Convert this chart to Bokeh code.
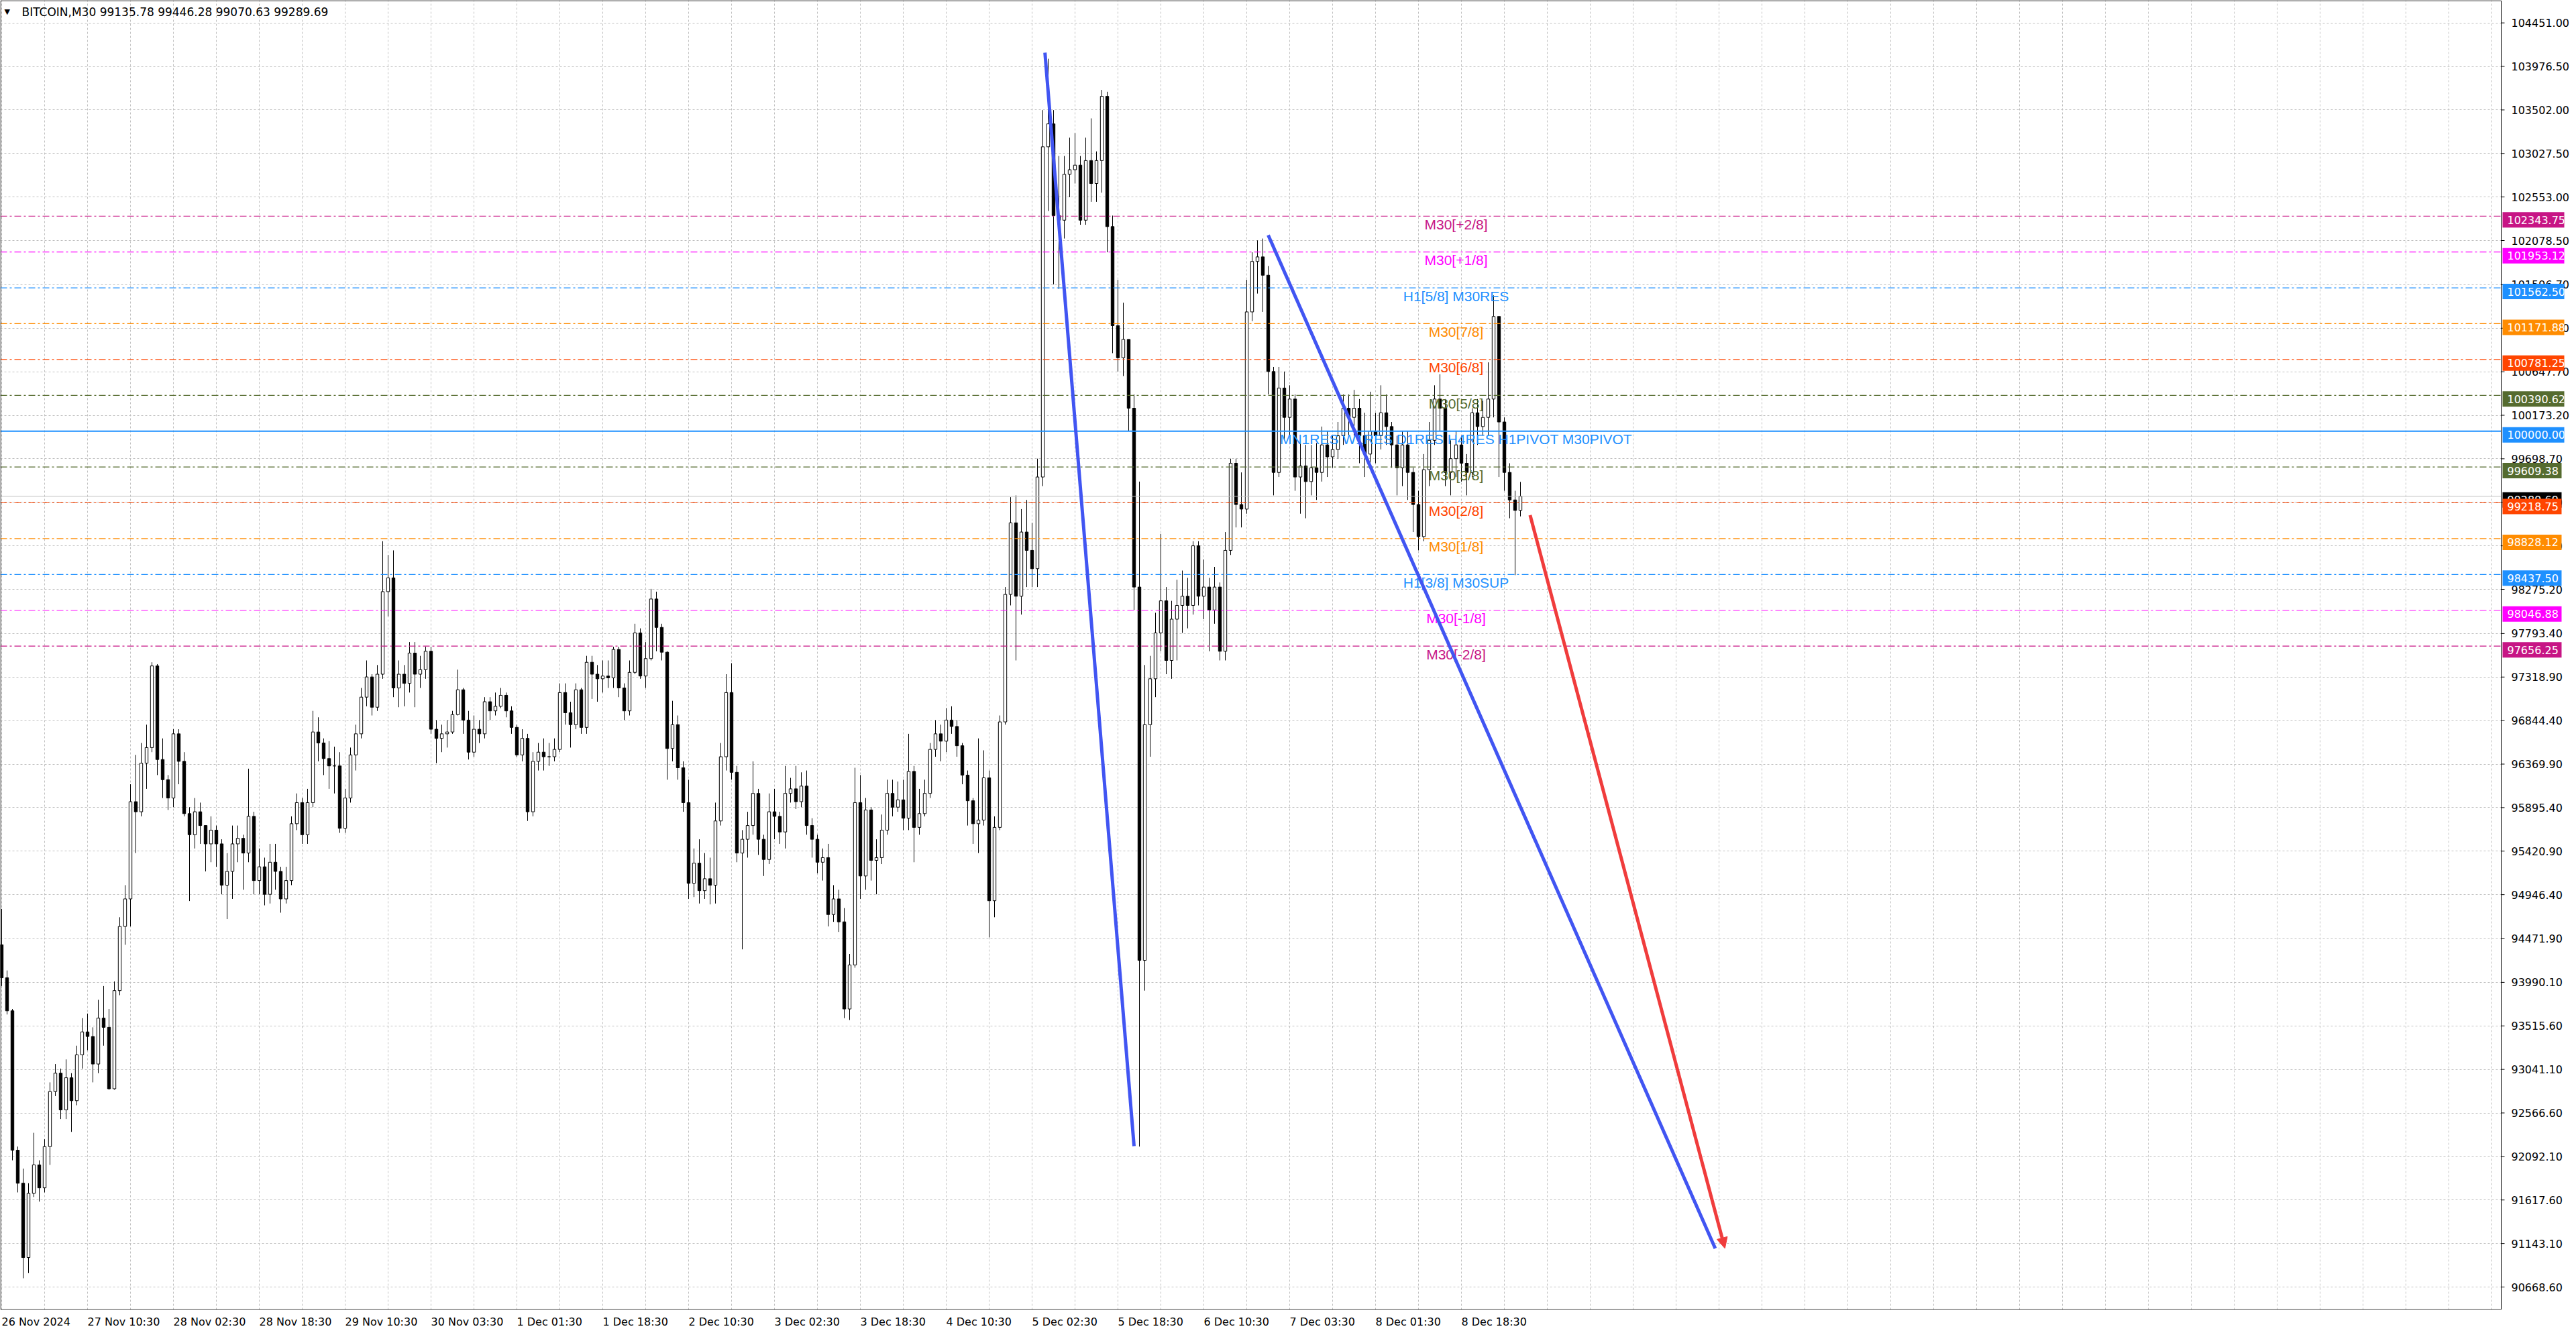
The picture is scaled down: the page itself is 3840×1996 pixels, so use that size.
from bokeh.plotting import figure
from bokeh.models import (Range1d, FixedTicker, Label, BoxAnnotation, Arrow, NormalHead,
                          ColumnDataSource, NumeralTickFormatter)
from bokeh.embed import file_html
from bokeh.resources import INLINE
from bokeh.core.properties import value

# ---------------- data (hourly candles) ----------------
first_open = 94400
highs = [94790, 94120, 93700, 92200, 91960, 91800, 92350, 92050, 92280, 92900,
         93100, 93050, 93150, 93000, 93300, 93600, 93650, 93500, 93800, 93950,
         93700, 94000, 94700, 95050, 96150, 96470, 96600, 96800, 97480, 97460,
         96650, 96250, 96750, 96750, 96500, 95900, 96000, 95950, 95700, 95800,
         95700, 95550, 95400, 95700, 95700, 95600, 96320, 95850, 95450, 95350,
         95500, 95500, 95250, 95250, 95800, 96050, 96000, 96100, 96950, 96880,
         96650, 96620, 96560, 96500, 96100, 96550, 96800, 97200, 97500, 97350,
         97450, 98800, 98650, 98700, 97500, 97450, 97700, 97700, 97550, 97650,
         97650, 96850, 96800, 96850, 96950, 97400, 97200, 96950, 96900, 96850,
         97100, 97100, 97150, 97200, 97150, 97000, 96800, 96750, 96700, 96500,
         96600, 96650, 96600, 96650, 97250, 97250, 97050, 97250, 97200, 97550,
         97550, 97450, 97500, 97500, 97650, 97650, 97250, 97500, 97900, 97850,
         97700, 98280, 98250, 97900, 97600, 97060, 96900, 96400, 96200, 95450,
         95550, 95400, 95350, 95950, 96600, 97350, 97470, 96350, 95650, 95850,
         96400, 96100, 95600, 96050, 96100, 95850, 96350, 96220, 96350, 96280,
         96300, 95780, 95600, 95450, 95500, 95050, 95000, 94800, 94300, 96330,
         96250, 96000, 95900, 95550, 95820, 96200, 96200, 96180, 96200, 96700,
         96350, 96100, 96200, 96600, 96850, 96800, 96980, 97000, 96850, 96600,
         96300, 96000, 96650, 96520, 96300, 95800, 96900, 98300, 99280, 99300,
         99150, 99250, 99000, 99700, 103500, 104060, 103500, 103000, 103000, 103200,
         103250, 103000, 103200, 103410, 103050, 103720, 103700, 102350, 101650, 101400,
         101000, 100400, 99450, 97450, 97550, 98020, 98880, 98300, 98150, 98380,
         98480, 98400, 98800, 98800, 98600, 98400, 98520, 98350, 98900, 99700,
         99700, 99550, 101650, 101950, 102080, 102100, 101800, 100700, 100700, 100650,
         100500, 100400, 99870, 99850, 99850, 99870, 100050, 100000, 99950, 100100,
         100400, 100400, 100450, 100350, 100200, 100430, 100200, 100500, 100400, 100100,
         99950, 100000, 100000, 99600, 99350, 99750, 100100, 100500, 100620, 100350,
         99900, 100000, 99950, 99750, 100250, 100350, 100330, 100750, 101480, 101250,
         100150, 99650, 99350, 99446.28]
lows = [93950, 93640, 92050, 91700, 90764, 90820, 91650, 91600, 91700, 92000,
        92750, 92500, 92500, 92360, 92650, 93050, 93250, 92900, 93000, 93300,
        92820, 92820, 93850, 94400, 94600, 95400, 95800, 96100, 96500, 96250,
        96000, 95870, 95900, 96150, 95800, 94877, 95450, 95500, 95200, 95300,
        95250, 94950, 94680, 94900, 95300, 95000, 95300, 94950, 94950, 94830,
        94850, 95000, 94750, 94850, 95050, 95650, 95500, 95500, 95900, 96400,
        96250, 96100, 96050, 95620, 95620, 95950, 96300, 96650, 97000, 96900,
        96950, 97300, 97980, 97100, 96990, 97000, 97150, 96990, 97200, 97300,
        96700, 96380, 96500, 96550, 96700, 96900, 96700, 96420, 96450, 96600,
        96650, 96850, 96900, 96980, 96880, 96700, 96450, 96400, 95750, 95800,
        96300, 96300, 96350, 96400, 96500, 96800, 96550, 96750, 96700, 96700,
        97080, 97050, 97150, 97200, 97200, 97100, 96850, 96900, 97350, 97300,
        97200, 97500, 97600, 97500, 96200, 96400, 96200, 95850, 94900, 94920,
        94850, 94900, 94840, 94850, 95700, 96300, 96200, 95300, 94350, 95350,
        95600, 95380, 95150, 95280, 95550, 95500, 95450, 95950, 95880, 95900,
        95600, 95350, 95180, 95100, 94600, 94650, 94540, 93600, 93580, 94150,
        94900, 95000, 95100, 94950, 95280, 95600, 95800, 95850, 95650, 95650,
        95300, 95600, 95800, 96000, 96450, 96400, 96500, 96700, 96450, 96150,
        95700, 95500, 95400, 95700, 94480, 94700, 95650, 96800, 98100, 97500,
        98000, 98300, 98300, 98300, 99400, 102400, 101600, 101550, 102100, 102550,
        102700, 102250, 102250, 102500, 102500, 102600, 101950, 100850, 100650, 100600,
        100000, 98050, 92200, 93900, 96450, 97100, 97600, 97350, 97300, 97500,
        97800, 97850, 98000, 98100, 97950, 97600, 97900, 97500, 97500, 98650,
        98950, 98950, 99100, 101200, 101500, 101300, 100400, 99300, 99500, 99900,
        99950, 99350, 99100, 99050, 99300, 99250, 99450, 99500, 99600, 99700,
        99850, 99950, 99950, 99650, 99500, 99600, 99650, 99800, 99850, 99600,
        99300, 99400, 99250, 98900, 98700, 98800, 99400, 99850, 100000, 99400,
        99300, 99500, 99450, 99300, 99500, 99850, 99950, 99950, 100150, 99500,
        99350, 99050, 98430, 99070.63]
closes = [94040, 93680, 92160, 91800, 90990, 91690, 92000, 91750, 92200, 92800,
          93000, 92600, 92950, 92700, 93200, 93450, 93400, 93100, 93600, 93500,
          92830, 93900, 94600, 94900, 95960, 95850, 96380, 96550, 97440, 96420,
          96200, 96000, 96700, 96400, 95830, 95600, 95850, 95700, 95500, 95650,
          95500, 95050, 95200, 95500, 95560, 95400, 95800, 95100, 95250, 94950,
          95300, 95200, 94900, 95100, 95720, 95950, 95600, 95950, 96720, 96600,
          96430, 96350, 96350, 95670, 96000, 96470, 96700, 97100, 97320, 96990,
          97350, 98250, 98400, 97200, 97350, 97250, 97580, 97350, 97400, 97600,
          96750, 96650, 96700, 96720, 96910, 97180, 96850, 96500, 96750, 96700,
          97050, 96950, 97000, 97120, 96950, 96770, 96470, 96650, 95850, 96400,
          96500, 96450, 96450, 96530, 97150, 96930, 96800, 97180, 96770, 97480,
          97350, 97300, 97330, 97310, 97620, 97200, 96950, 97370, 97800, 97330,
          97520, 98170, 97860, 97590, 96540, 96800, 96330, 95950, 95070, 95290,
          94990, 95120, 95050, 95750, 96450, 97150, 96280, 95400, 95550, 95700,
          96050, 95550, 95330, 95850, 95800, 95630, 96050, 96100, 95960, 96130,
          95700, 95550, 95300, 95350, 94730, 94900, 94650, 93700, 94180, 95950,
          95150, 95870, 95320, 95350, 95650, 96050, 95900, 95980, 95780, 96290,
          95680, 95830, 96050, 96530, 96700, 96620, 96850, 96780, 96570, 96250,
          95970, 95720, 95760, 96220, 94880, 95680, 96830, 98220, 99000, 98200,
          98900, 98700, 98500, 99500, 103100, 103350, 102350, 102300, 102800, 102850,
          102900, 102300, 102950, 102700, 102950, 103650, 102230, 101150, 100800, 101000,
          100250, 98300, 94230, 96800, 97300, 97800, 98150, 97500, 97950, 98100,
          98200, 98100, 98750, 98200, 98300, 98050, 98300, 97600, 98700, 99650,
          99200, 99150, 101300, 101850, 101900, 101700, 100650, 99550, 100470, 100150,
          100350, 99500, 99620, 99450, 99600, 99550, 99850, 99720, 99800, 99950,
          100250, 100150, 100250, 99950, 99750, 100000, 99950, 100200, 100050, 99850,
          99600, 99850, 99550, 99200, 98850, 99580, 99900, 100350, 100250, 99550,
          99700, 99850, 99650, 99550, 100200, 100050, 100150, 100350, 101250, 100100,
          99550, 99250, 99135.78, 99289.69]

# price axis ticks and time axis labels
price_ticks = [104451.00, 103976.50, 103502.00, 103027.50, 102553.00, 102078.50,
               101596.70, 101122.20, 100647.70, 100173.20, 99698.70, 99224.20,
               98749.70, 98275.20, 97793.40, 97318.90, 96844.40, 96369.90,
               95895.40, 95420.90, 94946.40, 94471.90, 93990.10, 93515.60,
               93041.10, 92566.60, 92092.10, 91617.60, 91143.10, 90668.60]
time_labels = ["26 Nov 2024", "27 Nov 10:30", "28 Nov 02:30", "28 Nov 18:30",
               "29 Nov 10:30", "30 Nov 03:30", "1 Dec 01:30", "1 Dec 18:30",
               "2 Dec 10:30", "3 Dec 02:30", "3 Dec 18:30", "4 Dec 10:30",
               "5 Dec 02:30", "5 Dec 18:30", "6 Dec 10:30", "7 Dec 03:30",
               "8 Dec 01:30", "8 Dec 18:30"]
bars_per_label = 16

# Murrey math levels
level_prices = [102343.75, 101953.12, 101562.50, 101171.88, 100781.25, 100390.62,
                100000.00, 99609.38, 99218.75, 98828.12, 98437.50, 98046.88, 97656.25]
level_names = ["M30[+2/8]", "M30[+1/8]", "H1[5/8] M30RES", "M30[7/8]", "M30[6/8]",
               "M30[5/8]", "MN1RES W1RES D1RES H4RES H1PIVOT M30PIVOT", "M30[3/8]",
               "M30[2/8]", "M30[1/8]", "H1[3/8] M30SUP", "M30[-1/8]", "M30[-2/8]"]
level_colors = ["#C71585", "#FF00FF", "#1E90FF", "#FF8C00", "#FF4500", "#556B2F",
                "#1E90FF", "#556B2F", "#FF4500", "#FF8C00", "#1E90FF", "#FF00FF", "#C71585"]
pivot_price = 100000.00
label_pos = 271

bid_price = 99289.69
title_text = "BITCOIN,M30  99135.78 99446.28 99070.63 99289.69"

# drawn trend lines (bar index, price)
trend_x0 = [194.4, 236.0]
trend_y0 = [104127, 102137]
trend_x1 = [211.0, 319.3]
trend_y1 = [92205, 91090]
arrow_x0, arrow_y0, arrow_x1, arrow_y1 = 284.8, 99084, 321.1, 91090

# ---------------- layout constants ----------------
PX = 8.0                 # pixels per bar
CHART_W = 3728           # chart area width (px)
FW, FH = 3822, 1952      # frame incl. price-scale strip
x0 = -0.25
x_end = x0 + CHART_W / PX
x_max = x0 + FW / PX
y_min, y_max = 90420, 104697
ppx = (y_max - y_min) / FH   # price per pixel

p = figure(frame_width=FW, frame_height=FH,
           x_range=Range1d(x0, x_max), y_range=Range1d(y_min, y_max),
           output_backend="svg", toolbar_location=None,
           y_axis_location="right", x_axis_location="below",
           min_border_left=0, min_border_top=0, min_border_right=0, min_border_bottom=28,
           background_fill_color="white", border_fill_color="white",
           outline_line_color=None)

AX_FONT = "DejaVu Sans"
AX_SIZE = 16

# grids
p.xgrid.ticker = FixedTicker(ticks=list(range(0, int(x_end) + 1, 8)))
p.ygrid.ticker = FixedTicker(ticks=price_ticks)
for g in (p.xgrid, p.ygrid):
    g.grid_line_color = "#c0c0c0"
    g.grid_line_dash = "3 3"
    g.grid_line_width = 1

# x axis: bokeh centres labels on ticks, MT4 starts them at the tick
cw = {" ": 0.318, ":": 0.337, "N": 0.748, "o": 0.612, "v": 0.592,
      "D": 0.770, "e": 0.615, "c": 0.550}
def half_units(s):
    return sum(cw.get(ch, 0.636) for ch in s) * AX_SIZE / 2.0 / PX
xt = [round(bars_per_label * k + half_units(s), 2) for k, s in enumerate(time_labels)]
p.xaxis.ticker = FixedTicker(ticks=xt)
p.xaxis.major_label_overrides = {t: s for t, s in zip(xt, time_labels)}
p.xaxis.major_label_standoff = 8

# y axis: labels drawn back over the price strip, left of the frame edge
p.yaxis.ticker = FixedTicker(ticks=price_ticks)
p.yaxis.formatter = NumeralTickFormatter(format="0.00")
p.yaxis.major_label_standoff = -79
for ax in (p.xaxis, p.yaxis):
    ax.axis_line_color = None
    ax.major_tick_line_color = None
    ax.minor_tick_line_color = None
    ax.major_tick_out = 0
    ax.major_tick_in = 0
    ax.major_label_text_font = AX_FONT
    ax.major_label_text_font_size = f"{AX_SIZE}px"
    ax.major_label_text_color = "black"

# candles
n = len(closes)
opens = [first_open] + closes[:-1]
opens[-1] = 99135.78
xs = list(range(n))
src = ColumnDataSource(dict(
    x=xs, high=highs, low=lows,
    top=[max(o, c) for o, c in zip(opens, closes)],
    bottom=[min(o, c) for o, c in zip(opens, closes)],
    fill=["white" if c >= o else "black" for o, c in zip(opens, closes)]))
p.segment(x0="x", y0="high", x1="x", y1="low", source=src, line_color="black", line_width=1)
p.vbar(x="x", width=0.55, top="top", bottom="bottom", source=src,
       fill_color="fill", line_color="black", line_width=1)

# level lines (stop at the chart's right border)
p.segment(x0=[x0], x1=[x_end], y0=[bid_price], y1=[bid_price], line_color="#c0c0c0", line_width=1)
dl = [(lp, lc) for lp, lc in zip(level_prices, level_colors) if lp != pivot_price]
p.segment(x0=[x0] * len(dl), x1=[x_end] * len(dl), y0=[d[0] for d in dl], y1=[d[0] for d in dl],
          line_color=[d[1] for d in dl], line_width=1.2, line_dash="10 4 3 4")
p.segment(x0=[x0], x1=[x_end], y0=[pivot_price], y1=[pivot_price],
          line_color=level_colors[level_prices.index(pivot_price)], line_width=2)

lsrc = ColumnDataSource(dict(x=[label_pos] * len(level_prices), y=level_prices,
                             t=level_names, c=level_colors))
p.text(x="x", y="y", text="t", text_color="c", source=lsrc, text_align="center",
       text_baseline="middle", y_offset=12, text_font=value("Liberation Sans"),
       text_font_size="21px")

# trend lines
for a, b, c, d in zip(trend_x0, trend_y0, trend_x1, trend_y1):
    p.line([a, c], [b, d], line_color="#4155F2", line_width=5)

# price-scale strip: white cover, chart border, tick marks
p.quad(left=[x_end], right=[x_max], bottom=[y_min], top=[y_max],
       fill_color="white", line_color=None)
p.quad(left=[x0 + 0.5 / PX], right=[x_end], bottom=[y_min + 0.5 * ppx], top=[y_max - 0.5 * ppx],
       fill_color=None, line_color="black", line_width=1)
p.segment(x0=[x_end] * len(price_ticks), x1=[x_end + 5 / PX] * len(price_ticks),
          y0=price_ticks, y1=price_ticks, line_color="black", line_width=1)

red = "#F03C3C"
p.add_layout(Arrow(end=NormalHead(size=16, fill_color=red, line_color=red),
                   x_start=arrow_x0, y_start=arrow_y0, x_end=arrow_x1, y_end=arrow_y1,
                   line_color=red, line_width=5))

# coloured price tags (box + white text), drawn over the scale labels
tag_prices = list(level_prices)
tag_colors = list(level_colors)
tag_prices.insert(8, bid_price)
tag_colors.insert(8, "black")
for tp, tc in zip(tag_prices, tag_colors):
    txt = f"{tp:.2f}"
    box_w = 100 if len(txt) > 8 else 90
    p.add_layout(BoxAnnotation(left=x_end + 2 / PX, right=x_end + box_w / PX,
                               top=tp + 6 * ppx, bottom=tp - 17 * ppx,
                               fill_color=tc, fill_alpha=1.0, line_color=None))
    p.add_layout(Label(x=x_end + 9 / PX, y=tp - 5.5 * ppx, text=txt, text_color="white",
                       text_font=AX_FONT, text_font_size=f"{AX_SIZE}px",
                       text_baseline="middle", text_align="left"))

# title
p.add_layout(Label(x=6, y=FH - 17, x_units="screen", y_units="screen", text="\u25BC",
                   text_font=AX_FONT, text_font_size="11px", text_baseline="middle",
                   text_color="black"))
p.add_layout(Label(x=32, y=FH - 17, x_units="screen", y_units="screen", text=title_text,
                   text_font=AX_FONT, text_font_size="17px", text_baseline="middle",
                   text_color="black"))

open("out.html", "w").write(file_html(p, INLINE))
